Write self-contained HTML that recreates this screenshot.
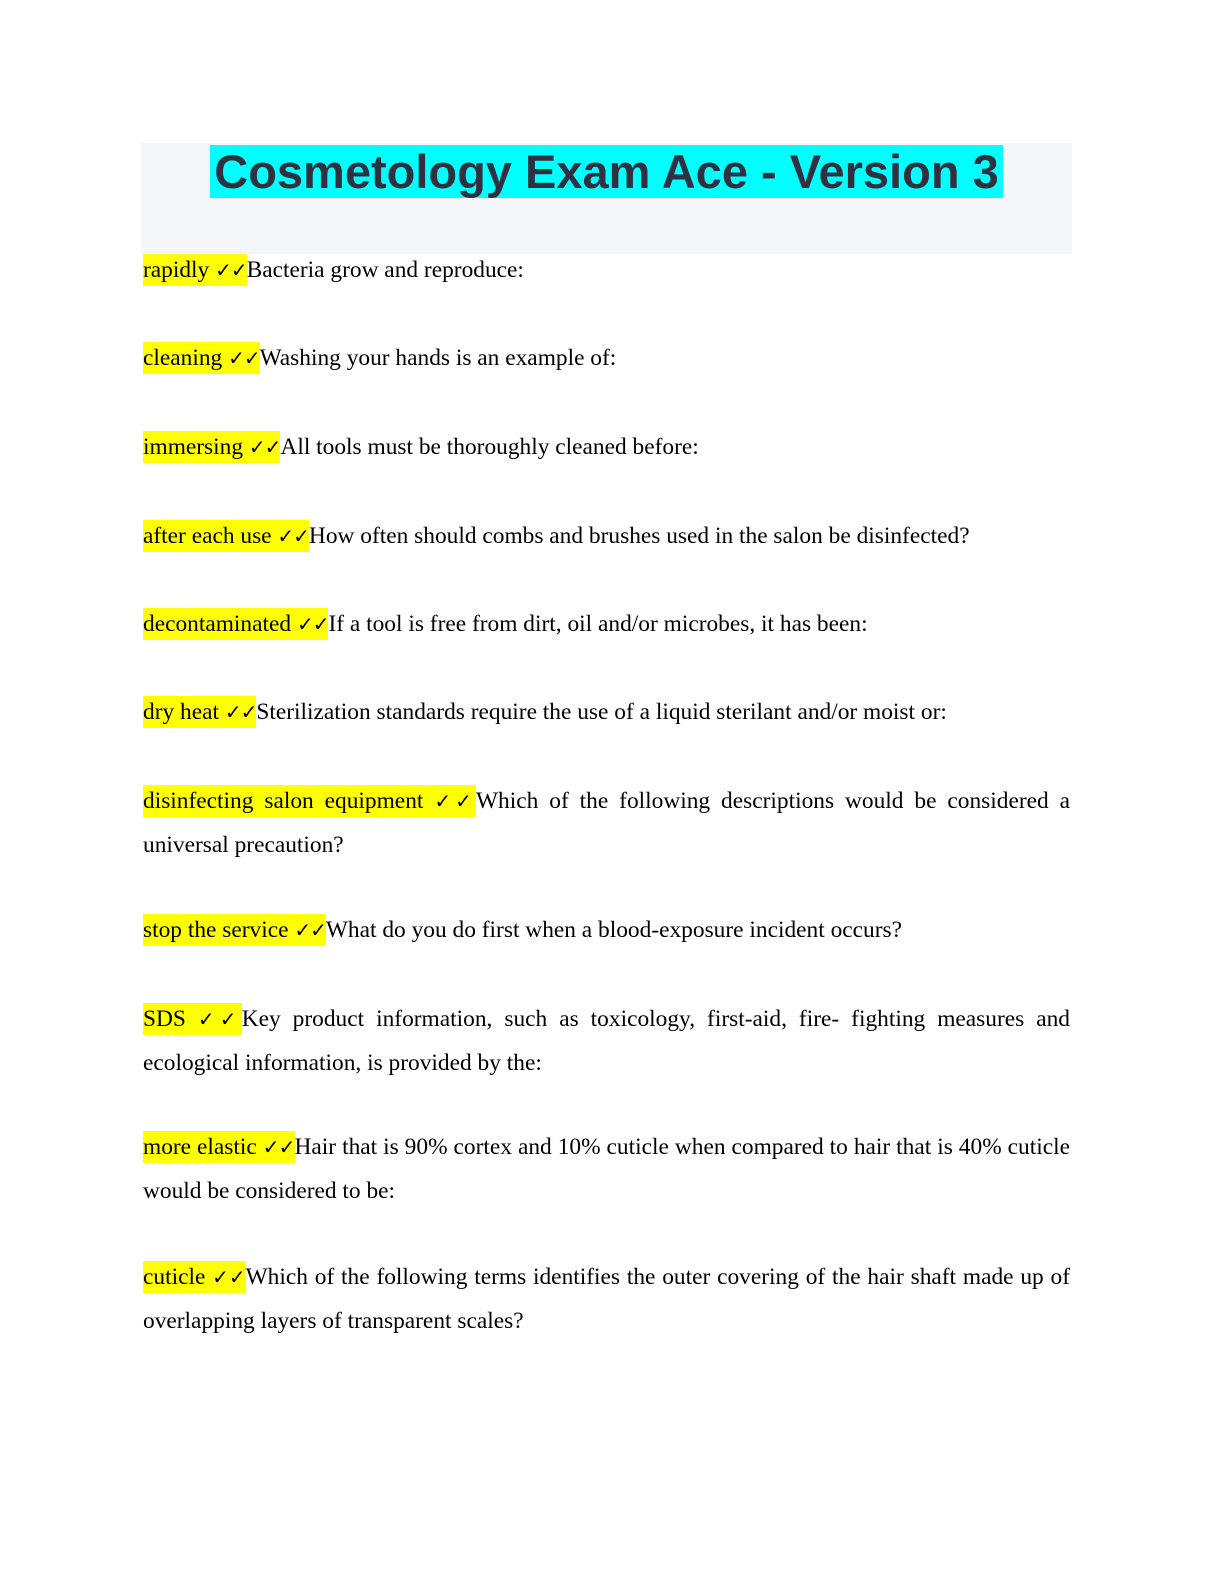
<!DOCTYPE html>
<html><head><meta charset="utf-8"><style>
body{margin:0;background:#fff;width:1224px;height:1584px;position:relative;overflow:hidden}
.tb{position:absolute;left:141px;top:143px;width:931px;height:111px;background:#f5f6fa}
.tt{position:absolute;left:141px;top:144px;width:931px;text-align:center;font:bold 47px/56px "Liberation Sans",Arial,sans-serif;color:#2f3140}
.tt span{background:#00ffff;padding:0 4px}
.p{position:absolute;left:143px;width:927px;font:23.4px/44px "Liberation Serif","Times New Roman",serif;color:#000;text-align:justify}
.h{background:#ffff00;padding:3px 0 3px}
.c{font-family:"DejaVu Sans",sans-serif;font-weight:bold;font-size:20px;letter-spacing:-1px}
</style></head><body>
<div class="tb"></div>
<div class="tt"><span>Cosmetology Exam Ace - Version 3</span></div>
<div class="p" style="top:248px"><span class="h">rapidly <span class="c">✓✓</span></span>Bacteria grow and reproduce:</div>
<div class="p" style="top:336px"><span class="h">cleaning <span class="c">✓✓</span></span>Washing your hands is an example of:</div>
<div class="p" style="top:425px"><span class="h">immersing <span class="c">✓✓</span></span>All tools must be thoroughly cleaned before:</div>
<div class="p" style="top:514px"><span class="h">after each use <span class="c">✓✓</span></span>How often should combs and brushes used in the salon be disinfected?</div>
<div class="p" style="top:602px"><span class="h">decontaminated <span class="c">✓✓</span></span>If a tool is free from dirt, oil and/or microbes, it has been:</div>
<div class="p" style="top:690px"><span class="h">dry heat <span class="c">✓✓</span></span>Sterilization standards require the use of a liquid sterilant and/or moist or:</div>
<div class="p" style="top:779px"><span class="h">disinfecting salon equipment <span class="c">✓✓</span></span>Which of the following descriptions would be considered a universal precaution?</div>
<div class="p" style="top:908px"><span class="h">stop the service <span class="c">✓✓</span></span>What do you do first when a blood-exposure incident occurs?</div>
<div class="p" style="top:997px"><span class="h">SDS <span class="c">✓✓</span></span>Key product information, such as toxicology, first-aid, fire- fighting measures and ecological information, is provided by the:</div>
<div class="p" style="top:1125px"><span class="h">more elastic <span class="c">✓✓</span></span>Hair that is 90% cortex and 10% cuticle when compared to hair that is 40% cuticle would be considered to be:</div>
<div class="p" style="top:1255px"><span class="h">cuticle <span class="c">✓✓</span></span>Which of the following terms identifies the outer covering of the hair shaft made up of overlapping layers of transparent scales?</div>
</body></html>
